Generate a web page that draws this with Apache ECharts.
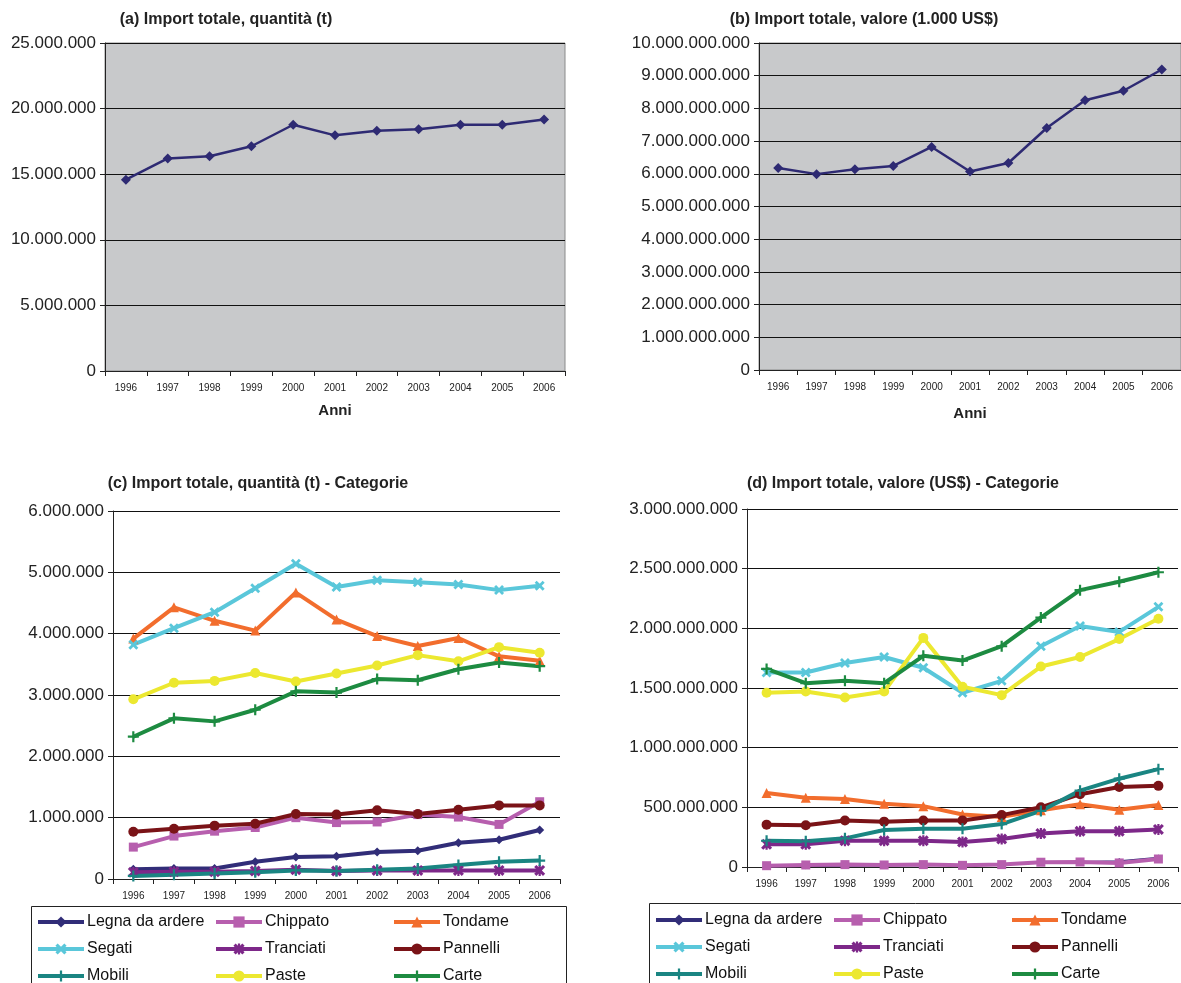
<!DOCTYPE html>
<html><head><meta charset="utf-8">
<script src="https://cdn.jsdelivr.net/npm/echarts@6/dist/echarts.min.js"></script>
<style>html,body{margin:0;padding:0;background:#fff}#c{width:1181px;height:983px}</style>
</head><body><div id="c"></div>
<script>
const years = ['1996','1997','1998','1999','2000','2001','2002','2003','2004','2005','2006'];
const totQty = [14580000,16200000,16370000,17130000,18770000,17960000,18310000,18420000,18770000,18770000,19170000];
const totVal = [6180000000,5990000000,6140000000,6240000000,6820000000,6070000000,6330000000,7400000000,8250000000,8540000000,9190000000];

const catNames = ['Legna da ardere','Chippato','Tondame','Segati','Tranciati','Pannelli','Mobili','Paste','Carte'];

const legnaQ = [160000,170000,170000,280000,360000,370000,440000,460000,590000,640000,800000];
const chippatoQ = [520000,700000,780000,840000,1000000,920000,930000,1050000,1010000,890000,1260000];
const tondameQ = [3920000,4430000,4210000,4050000,4670000,4230000,3960000,3800000,3930000,3630000,3560000];
const segatiQ = [3820000,4090000,4350000,4740000,5140000,4760000,4870000,4840000,4800000,4710000,4780000];
const tranciatiQ = [110000,120000,120000,130000,150000,130000,140000,140000,140000,140000,140000];
const pannelliQ = [770000,820000,870000,900000,1060000,1050000,1120000,1060000,1130000,1200000,1200000];
const mobiliQ = [50000,70000,90000,110000,140000,130000,150000,170000,230000,280000,300000];
const pasteQ = [2930000,3200000,3230000,3360000,3220000,3350000,3480000,3650000,3550000,3780000,3690000];
const carteQ = [2320000,2620000,2570000,2760000,3060000,3040000,3260000,3240000,3420000,3530000,3470000];

const legnaV = [5000000,7000000,8000000,10000000,12000000,15000000,25000000,35000000,45000000,50000000,80000000];
const chippatoV = [11000000,17000000,20000000,17000000,20000000,14000000,20000000,40000000,42000000,34000000,67000000];
const tondameV = [620000000,580000000,570000000,530000000,510000000,440000000,420000000,475000000,525000000,480000000,520000000];
const segatiV = [1630000000,1630000000,1710000000,1760000000,1670000000,1460000000,1560000000,1850000000,2020000000,1970000000,2180000000];
const tranciatiV = [190000000,190000000,220000000,220000000,220000000,210000000,235000000,280000000,300000000,300000000,315000000];
const pannelliV = [355000000,350000000,390000000,380000000,390000000,390000000,435000000,500000000,610000000,670000000,680000000];
const mobiliV = [220000000,215000000,240000000,310000000,320000000,320000000,360000000,470000000,640000000,740000000,820000000];
const pasteV = [1460000000,1470000000,1420000000,1470000000,1920000000,1510000000,1440000000,1680000000,1760000000,1910000000,2080000000];
const carteV = [1660000000,1540000000,1560000000,1540000000,1770000000,1730000000,1850000000,2090000000,2320000000,2390000000,2470000000];

const qtyData = [legnaQ,chippatoQ,tondameQ,segatiQ,tranciatiQ,pannelliQ,mobiliQ,pasteQ,carteQ];
const valData = [legnaV,chippatoV,tondameV,segatiV,tranciatiV,pannelliV,mobiliV,pasteV,carteV];

const colors = ['#312d78','#b75fae','#f26d2d','#5ac7da','#7d2889','#7a1317','#1a8582','#ece830','#1d8b41'];
const X_SYM = 'path://M0,2 L2,0 L5,3 L8,0 L10,2 L7,5 L10,8 L8,10 L5,7 L2,10 L0,8 L3,5 Z';
const PLUS_SYM = 'path://M4,0 L6,0 L6,4 L10,4 L10,6 L6,6 L6,10 L4,10 L4,6 L0,6 L0,4 L4,4 Z';
const STAR_SYM = 'path://M0,2 L2,0 L5,3 L8,0 L10,2 L7,5 L10,8 L8,10 L5,7 L2,10 L0,8 L3,5 Z M4,0 L6,0 L6,10 L4,10 Z';
const symbols = ['diamond','rect','triangle',X_SYM,STAR_SYM,'circle',PLUS_SYM,'circle',PLUS_SYM];
const symSizes = [9,9,10,10,11,10,11,10,11];

function fmt(v){ return String(v).replace(/\B(?=(\d{3})+(?!\d))/g,'.'); }
const FONT = 'Liberation Sans, Arial, sans-serif';

function xAx(gi, name, gap){
  return {type:'category', gridIndex:gi, data:years, boundaryGap:true,
    axisLine:{lineStyle:{color:'#222',width:1}},
    axisTick:{show:true,length:5,inside:false,lineStyle:{color:'#222'}},
    axisLabel:{color:'#222',fontSize:10,fontFamily:FONT,margin:12,interval:0},
    name:name||'', nameLocation:'middle', nameGap:gap||30,
    nameTextStyle:{color:'#222',fontSize:15,fontWeight:'bold',fontFamily:FONT}};
}
function yAx(gi,max,interval){
  return {type:'value', gridIndex:gi, min:0, max:max, interval:interval,
    axisLine:{show:true,lineStyle:{color:'#222',width:1}},
    axisTick:{show:true,length:5,lineStyle:{color:'#222'}},
    splitLine:{show:true,lineStyle:{color:'#111',width:1}},
    axisLabel:{color:'#222',fontSize:17,fontFamily:FONT,margin:9,formatter:fmt}};
}

const series = [
  {type:'line', xAxisIndex:0, yAxisIndex:0, data:totQty, symbol:'diamond', symbolSize:10,
   lineStyle:{color:'#2e2a73',width:2.5}, itemStyle:{color:'#2e2a73'}, silent:true},
  {type:'line', xAxisIndex:1, yAxisIndex:1, data:totVal, symbol:'diamond', symbolSize:10,
   lineStyle:{color:'#2e2a73',width:2.5}, itemStyle:{color:'#2e2a73'}, silent:true}
];
catNames.forEach((n,i)=>{
  series.push({type:'line', name:n, xAxisIndex:2, yAxisIndex:2, data:qtyData[i],
    symbol:symbols[i], symbolSize:symSizes[i],
    lineStyle:{color:colors[i],width:4}, itemStyle:{color:colors[i]}});
});
catNames.forEach((n,i)=>{
  series.push({type:'line', name:n, xAxisIndex:3, yAxisIndex:3, data:valData[i],
    symbol:symbols[i], symbolSize:i===0?6:symSizes[i],
    lineStyle:{color:colors[i],width:i===0?1.5:4}, itemStyle:{color:colors[i]}});
});

function legendCol(left, top, names){
  return {type:'plain', orient:'vertical', left:left, top:top, height:120, width:170,
    data:names, itemWidth:46, itemHeight:14, itemGap:11,
    lineStyle:{width:4},
    textStyle:{color:'#111',fontSize:16,fontFamily:FONT,lineHeight:14,padding:[0,0,0,-2]},
    selectedMode:false, padding:0};
}
const col1 = ['Legna da ardere','Segati','Mobili'];
const col2 = ['Chippato','Tranciati','Paste'];
const col3 = ['Tondame','Pannelli','Carte'];

const option = {
  animation:false,
  backgroundColor:'#fff',
  grid:[
    {left:105, top:43, width:460, height:328, show:true, backgroundColor:'#c8c9cb', borderColor:'#8a8a8a', borderWidth:1},
    {left:759, top:43, width:422, height:327, show:true, backgroundColor:'#c8c9cb', borderColor:'#8a8a8a', borderWidth:1},
    {left:113, top:511, width:447, height:368},
    {left:747, top:509, width:431, height:358}
  ],
  xAxis:[xAx(0,'Anni',32), xAx(1,'Anni',36), xAx(2), xAx(3)],
  yAxis:[yAx(0,25000000,5000000), yAx(1,10000000000,1000000000), yAx(2,6000000,1000000), yAx(3,3000000000,500000000)],
  legend:[
    legendCol(36,914,col1), legendCol(214,914,col2), legendCol(392,914,col3),
    legendCol(654,912,col1), legendCol(832,912,col2), legendCol(1010,912,col3)
  ],
  graphic:[
    {type:'text', x:226, y:20, style:{text:'(a) Import totale, quantità (t)', fill:'#222', font:'bold 16px '+FONT, textAlign:'center', textVerticalAlign:'middle'}},
    {type:'text', x:864, y:20, style:{text:'(b) Import totale, valore (1.000 US$)', fill:'#222', font:'bold 16px '+FONT, textAlign:'center', textVerticalAlign:'middle'}},
    {type:'text', x:258, y:484, style:{text:'(c) Import totale, quantità (t) - Categorie', fill:'#222', font:'bold 16px '+FONT, textAlign:'center', textVerticalAlign:'middle'}},
    {type:'text', x:903, y:484, style:{text:'(d) Import totale, valore (US$) - Categorie', fill:'#222', font:'bold 16px '+FONT, textAlign:'center', textVerticalAlign:'middle'}},
    {type:'rect', shape:{x:31.5, y:906.5, width:535, height:90}, style:{fill:'none', stroke:'#222', lineWidth:1}, z:-1},
    {type:'rect', shape:{x:649.5, y:903.5, width:560, height:90}, style:{fill:'none', stroke:'#222', lineWidth:1}, z:-1}
  ],
  series:series
};
const chart = echarts.init(document.getElementById('c'), null, {renderer:'canvas'});
chart.setOption(option);
</script></body></html>
